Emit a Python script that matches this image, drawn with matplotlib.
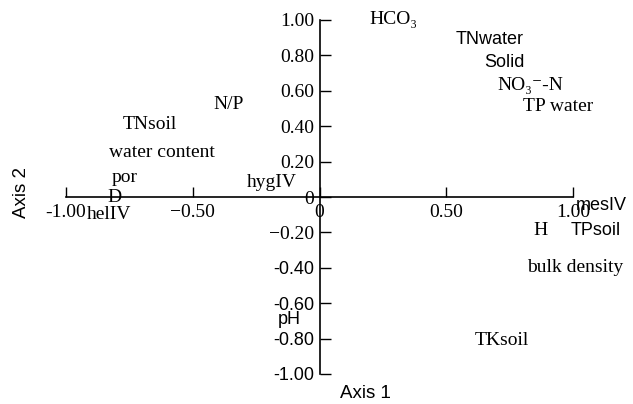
import matplotlib
matplotlib.use('Agg')
import matplotlib.pyplot as plt

# label positions (axis 1, axis 2)
labels = ['HCO₃', 'TNwater', 'Solid', 'NO₃⁻-N', 'TP water', 'N/P', 'TNsoil',
          'water content', 'por', 'hygIV', 'D', 'helIV', 'mesIV', 'H', 'TPsoil',
          'bulk density', 'TKsoil', 'pH']
axis1 = [0.29, 0.67, 0.73, 0.83, 0.94, -0.36, -0.67, -0.62, -0.77, -0.19, -0.81,
         -0.83, 1.11, 0.87, 1.09, 1.01, 0.72, -0.12]
axis2 = [1.00, 0.89, 0.76, 0.63, 0.51, 0.52, 0.41, 0.25, 0.11, 0.08, 0.00,
         -0.10, -0.05, -0.19, -0.19, -0.40, -0.81, -0.69]
sans_labels = ['TNwater', 'Solid', 'mesIV', 'TPsoil', 'pH']

xticks = [-1.0, -0.5, 0, 0.5, 1.0]
xtick_labels = ['-1.00', '\u22120.50', '0', '0.50', '1.00']
yticks = [1.0, 0.8, 0.6, 0.4, 0.2, 0, -0.2, -0.4, -0.6, -0.8, -1.0]
ytick_labels = ['1.00', '0.80', '0.60', '0.40', '0.20', '0', '\u22120.20',
                '-0.40', '-0.60', '-0.80', '-1.00']

serif = ['Liberation Serif', 'DejaVu Serif']
sans = ['Liberation Sans', 'DejaVu Sans']

fig = plt.figure(figsize=(6.33, 4.04), dpi=100)
ax = fig.add_axes([66 / 633, 30 / 404, 507 / 633, 354 / 404])
ax.set_xlim(-1, 1)
ax.set_ylim(-1, 1)

for s in ['top', 'right']:
    ax.spines[s].set_visible(False)
ax.spines['left'].set_position(('data', 0))
ax.spines['bottom'].set_position(('data', 0))
ax.spines['left'].set_linewidth(1.2)
ax.spines['bottom'].set_linewidth(1.2)

ax.set_xticks(xticks)
ax.set_xticklabels(xtick_labels)
ax.set_yticks(yticks)
ax.set_yticklabels(ytick_labels)
ax.tick_params(axis='x', direction='in', length=7, width=1, pad=5)
ax.tick_params(axis='y', direction='in', length=8, width=1, pad=4)

for t in ax.get_xticklabels():
    t.set_fontfamily(serif)
    t.set_fontsize(14)
for t in ax.get_yticklabels():
    if t.get_text().startswith('-'):
        t.set_fontfamily(sans)
        t.set_fontsize(13)
    else:
        t.set_fontfamily(serif)
        t.set_fontsize(14)

for lab, x, y in zip(labels, axis1, axis2):
    if lab in sans_labels:
        ax.text(x, y, lab, ha='center', va='center', fontsize=13,
                family=sans, clip_on=False)
    else:
        ax.text(x, y, lab, ha='center', va='center', fontsize=14,
                family=serif, clip_on=False)

fig.text(365 / 633, 1 - 394 / 404, 'Axis 1', ha='center', va='center',
         fontsize=13.5, family=sans)
fig.text(22 / 633, 1 - 192 / 404, 'Axis 2', ha='center', va='center',
         fontsize=13.5, family=sans, rotation=90)

fig.savefig('out.png', dpi=100)
